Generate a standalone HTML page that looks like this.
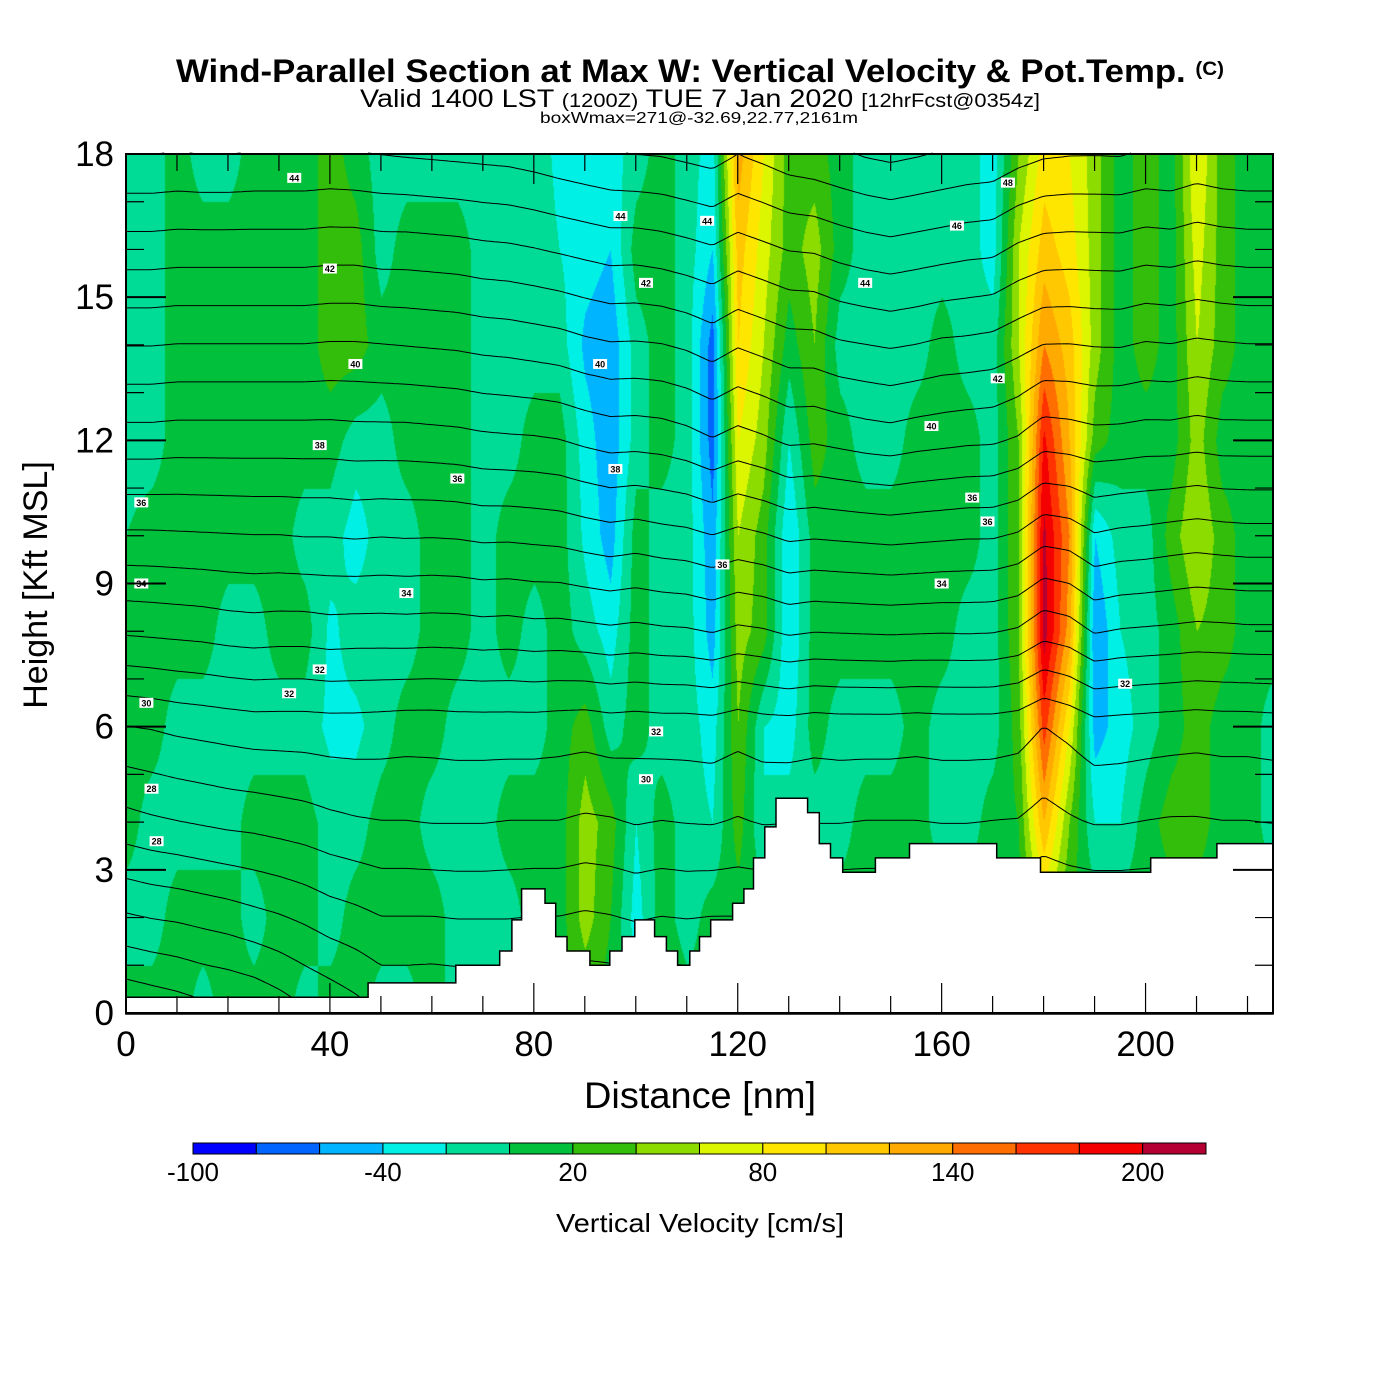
<!DOCTYPE html>
<html><head><meta charset="utf-8"><style>
body{margin:0;background:#fff;width:1400px;height:1400px;position:relative;overflow:hidden;font-family:"Liberation Sans",Arial,sans-serif}
#fld{position:absolute;left:126px;top:154px}
svg{position:absolute;left:0;top:0}
</style></head><body>
<canvas id="fld" width="1147" height="859"></canvas>
<svg id="s" width="1400" height="1400">
<text x="176" y="82" font-size="32" font-weight="bold" textLength="1048" lengthAdjust="spacingAndGlyphs">Wind-Parallel Section at Max W: Vertical Velocity &amp; Pot.Temp. <tspan font-size="19" dy="-7">(C)</tspan></text>
<text x="360" y="107" font-size="25" textLength="680" lengthAdjust="spacingAndGlyphs">Valid 1400 LST <tspan font-size="19">(1200Z)</tspan> TUE 7 Jan 2020 <tspan font-size="19">[12hrFcst@0354z]</tspan></text>
<text x="540" y="123" font-size="16" textLength="318" lengthAdjust="spacingAndGlyphs">boxWmax=271@-32.69,22.77,2161m</text>
<g id="contours"></g>
<g id="terrain"></g>
<g id="clabels"></g>
<g id="axes"></g>
<text x="700" y="1108" text-anchor="middle" font-size="37" textLength="232" lengthAdjust="spacingAndGlyphs">Distance [nm]</text>
<text transform="translate(47,585) rotate(-90)" text-anchor="middle" font-size="34">Height [Kft MSL]</text>
<g id="cbar"></g>
<text x="700" y="1232" text-anchor="middle" font-size="26" textLength="288" lengthAdjust="spacingAndGlyphs">Vertical Velocity [cm/s]</text>
</svg>
<script>
// ---- data ----
const distNodes=[0,5,10,15,20,25,30,35,40,45,50,55,60,65,70,75,80,85,90,95,100,105,110,115,120,125,130,135,140,145,150,155,160,165,170,175,180,185,190,195,200,205,210,215,220,225];
const heightNodes=[0,2,4,6,8,10,12,14,16,18];
// vertical velocity (cm/s) per distance column, heights 0..18 kft
const wCols=[
[10,-10,10,10,10,0,-10,-10,-10,-10],
[10,-10,-10,10,10,10,-10,-10,-10,-10],
[10,10,-10,-10,10,10,10,10,10,10],
[-10,10,-10,-10,10,10,10,10,10,-10],
[10,10,-10,-10,-10,10,10,10,10,-10],
[10,-10,10,-10,-10,10,10,10,10,10],
[10,10,10,-10,10,10,10,10,10,10],
[-10,10,10,-10,10,-10,10,10,10,10],
[10,-10,-10,-25,-25,-10,10,30,30,30],
[10,10,-10,-25,-10,-30,-10,30,30,10],
[-10,10,10,-10,-10,-10,-10,10,-10,-10],
[-10,10,10,10,-10,-10,10,10,10,-10],
[10,10,-10,10,10,10,10,10,10,-10],
[-10,-10,-10,-10,10,10,10,10,10,-10],
[-10,-10,-10,-10,-10,-10,-10,-10,-10,-10],
[-10,-10,10,-10,10,10,-10,-10,-10,-10],
[10,10,10,-10,-10,10,10,-10,-10,-10],
[10,10,10,10,10,10,10,-10,-20,-25],
[20,50,50,30,-10,-25,-30,-45,-30,-30],
[10,20,30,-10,-30,-50,-55,-55,-40,-30],
[-20,-30,-20,10,10,10,-10,-10,10,-10],
[20,10,10,-10,-10,-10,10,10,10,10],
[10,-10,-10,-10,-10,-10,-10,-10,-10,-10],
[10,10,-20,-30,-50,-55,-70,-70,-40,-30],
[10,10,30,40,50,60,80,100,110,130],
[10,10,-20,-20,30,30,50,60,70,80],
[10,10,-10,-30,-40,-40,-20,10,30,30],
[10,10,-10,10,10,10,30,40,50,30],
[10,10,-10,-10,10,10,10,-10,10,10],
[10,10,10,-10,10,10,-10,-10,-10,-10],
[10,10,10,-10,10,10,-10,-10,-10,-10],
[10,10,10,10,10,10,10,-10,-10,-10],
[10,10,-10,-10,10,10,10,10,-10,-10],
[10,10,-10,-10,-10,10,10,-10,-10,-10],
[10,10,10,-10,-10,-10,-10,-10,-30,-30],
[10,10,20,30,40,40,40,60,60,40],
[40,60,120,170,210,205,185,140,110,90],
[30,20,40,80,130,140,120,110,90,80],
[10,10,-20,-50,-60,-40,30,50,50,50],
[10,10,-20,-30,-20,-10,10,10,10,10],
[10,10,10,-10,-10,-10,10,30,30,30],
[10,10,30,10,10,30,10,10,10,10],
[10,10,30,30,40,60,50,60,70,80],
[10,10,10,10,30,30,10,30,30,30],
[10,10,10,10,10,10,10,10,10,10],
[10,10,-10,-10,10,10,10,10,10,10]];
const thetaBase=[24,26,28,29.5,32.5,35,37.5,40,42.5,45];
const thetaPertDist=[0,25,50,75,100,125,150,175,200,225];
const thetaPertHeight=[0,6,12,18];
const thetaPert=[
[-3,-2,0,0,0,0,0,0,0,0],
[-0.5,0,0,0,0,0,0,0,0,0],
[0,0,0,0.3,0.8,1.5,2,1.5,1,1],
[0,0,0,0.3,1,1.5,2.2,1.5,1,1]];
const terrainStart=[0,47.5,64.7,73.3,75.7,77.6,82.2,84.3,86.5,91,94.9,97.3,99.8,103.7,106,108.2,110.6,112.5,114.7,119,121.2,123.1,125.3,127.5,133.7,136,138.2,140.6,147,153.7,170.8,179.4,201,214];
const terrainHeight=[0.33,0.63,1.0,1.3,1.95,2.6,2.3,1.6,1.3,1.0,1.3,1.6,1.95,1.6,1.3,1.0,1.3,1.6,1.95,2.3,2.6,3.25,3.9,4.5,4.2,3.55,3.25,2.95,3.25,3.55,3.25,2.95,3.25,3.55];
const cbLevels=[-100,-80,-60,-40,-20,0,20,40,60,80,100,120,140,160,180,200,220];
const cbColors=["#0000ff","#0064ff","#00b4ff","#00f0e6","#00dc96","#00c03c","#32be0a","#8cdc00","#dcf500","#ffe600","#ffc800","#ffaa00","#ff6e00","#ff3200","#f50000","#b40032"];
const cbTickLabels=["-100","-40","20","80","140","200"];
const cbTickValues=[-100,-40,20,80,140,200];
const xTickLabels=["0","40","80","120","160","200"];
const xTickValues=[0,40,80,120,160,200];
const yTickLabels=["0","3","6","9","12","15","18"];
const yTickValues=[0,3,6,9,12,15,18];
const labelDist=[6,5,4,3,33,40,38,45,65,55,38,32,3,102,114,96,104,102,93,97,117,145,163,158,171,166,160,169,173,196];
const labelHeight=[3.6,4.7,6.5,9,17.5,15.6,11.9,13.6,11.2,8.8,7.2,6.7,10.7,15.3,16.6,11.4,5.9,4.9,13.6,16.7,9.4,15.3,16.5,12.3,13.3,10.8,9,10.3,17.4,6.9];
const labelText=["28","28","30","34","44","42","38","40","36","34","32","32","36","42","44","38","32","30","40","44","36","44","46","40","42","36","34","36","48","32"];
</script>
<script>
const X0=126,X1=1273,Y0=1013,Y1=154,XMAX=225,ZMAX=18;
const NS="http://www.w3.org/2000/svg";
const xs=d=>X0+(X1-X0)*d/XMAX, ys=z=>Y0-(Y0-Y1)*z/ZMAX;
function idx(arr,v){let i=0;while(i<arr.length-2&&v>arr[i+1])i++;const t=Math.max(0,Math.min(1,(v-arr[i])/(arr[i+1]-arr[i])));return [i,t];}
function wAt(d,z){const [i,tx]=idx(distNodes,d),[j,tz]=idx(heightNodes,z);
 const a=wCols[i][j],b=wCols[i+1][j],c=wCols[i][j+1],e=wCols[i+1][j+1];
 return (a*(1-tx)+b*tx)*(1-tz)+(c*(1-tx)+e*tx)*tz;}
function thAt(d,z){const [j,tz]=idx(heightNodes,z);let th=thetaBase[j]*(1-tz)+thetaBase[j+1]*tz;
 const [pi,px]=idx(thetaPertDist,d),[pj,pz]=idx(thetaPertHeight,z);
 th+=(thetaPert[pj][pi]*(1-px)+thetaPert[pj][pi+1]*px)*(1-pz)+(thetaPert[pj+1][pi]*(1-px)+thetaPert[pj+1][pi+1]*px)*pz;
 return th-0.003*wAt(d,z);}
const cv=document.getElementById('fld'),ctx=cv.getContext('2d');
const W=cv.width,H=cv.height,img=ctx.createImageData(W,H);
const rgb=cbColors.map(c=>[parseInt(c.slice(1,3),16),parseInt(c.slice(3,5),16),parseInt(c.slice(5,7),16)]);
for(let py=0;py<H;py++){const z=ZMAX*(H-py)/H;for(let px=0;px<W;px++){const d=XMAX*px/W;const w=wAt(d,z);
 let k=0;while(k<rgb.length-1&&w>=cbLevels[k+1])k++;const c=rgb[k],o=(py*W+px)*4;img.data[o]=c[0];img.data[o+1]=c[1];img.data[o+2]=c[2];img.data[o+3]=255;}}
ctx.putImageData(img,0,0);
const G=4,nx=Math.ceil((X1-X0)/G)+1,nz=Math.ceil((Y0-Y1)/G)+1,T=[];
for(let j=0;j<nz;j++){T.push([]);for(let i=0;i<nx;i++){const px=Math.min(X0+i*G,X1),py=Math.max(Y0-j*G,Y1);T[j].push(thAt((px-X0)/(X1-X0)*XMAX,(Y0-py)/(Y0-Y1)*ZMAX));}}
let path="";
for(let lev=20;lev<=50;lev++){
 for(let j=0;j<nz-1;j++)for(let i=0;i<nx-1;i++){
  const v=[T[j][i],T[j][i+1],T[j+1][i+1],T[j+1][i]];
  const p=[[X0+i*G,Y0-j*G],[X0+(i+1)*G,Y0-j*G],[X0+(i+1)*G,Y0-(j+1)*G],[X0+i*G,Y0-(j+1)*G]];
  const pts=[];
  for(let e=0;e<4;e++){const a=v[e],b=v[(e+1)%4];if((a<lev)!==(b<lev)){const t=(lev-a)/(b-a);pts.push([p[e][0]+(p[(e+1)%4][0]-p[e][0])*t,p[e][1]+(p[(e+1)%4][1]-p[e][1])*t]);}}
  for(let q=0;q+1<pts.length;q+=2)path+=`M${pts[q][0].toFixed(1)} ${pts[q][1].toFixed(1)}L${pts[q+1][0].toFixed(1)} ${pts[q+1][1].toFixed(1)}`;
 }}
const cp=document.createElementNS(NS,'path');cp.setAttribute('d',path);cp.setAttribute('stroke','#000');cp.setAttribute('stroke-width','1');cp.setAttribute('fill','none');


document.getElementById('contours').appendChild(cp);
let tp=`M${X0} ${Y0+1}`;
for(let k=0;k<terrainStart.length;k++){const x1=xs(terrainStart[k]),x2=xs(k+1<terrainStart.length?terrainStart[k+1]:XMAX),y=ys(terrainHeight[k]);tp+=`L${x1.toFixed(1)} ${y.toFixed(1)}L${x2.toFixed(1)} ${y.toFixed(1)}`;}
tp+=`L${X1} ${Y0+1}Z`;
const tr=document.createElementNS(NS,'path');tr.setAttribute('d',tp);tr.setAttribute('fill','#fff');tr.setAttribute('stroke','#000');tr.setAttribute('stroke-width','1.5');


document.getElementById('terrain').appendChild(tr);
const cl=document.getElementById('clabels');
for(let k=0;k<labelText.length;k++){const x=xs(labelDist[k]),y=ys(labelHeight[k]);
 const r=document.createElementNS(NS,'rect');r.setAttribute('x',x-7);r.setAttribute('y',y-5);r.setAttribute('width',14);r.setAttribute('height',10);r.setAttribute('fill','#fff');
 
 
 cl.appendChild(r);
 const t=document.createElementNS(NS,'text');t.setAttribute('x',x);t.setAttribute('y',y+3.5);t.setAttribute('text-anchor','middle');t.setAttribute('font-size','9');t.setAttribute('font-weight','bold');t.textContent=labelText[k];
 
 
 cl.appendChild(t);}
const ax=document.getElementById('axes');
function line(x1,y1,x2,y2,w,name){const l=document.createElementNS(NS,'line');l.setAttribute('x1',x1);l.setAttribute('y1',y1);l.setAttribute('x2',x2);l.setAttribute('y2',y2);l.setAttribute('stroke','#000');l.setAttribute('stroke-width',w);
 
 
 ax.appendChild(l);}
for(let d=0;d<=XMAX;d+=10){const x=xs(d),L=(d%40===0)?30:17;line(x,Y0,x,Y0-L,1.2,'x-tick');line(x,Y1,x,Y1+L,1.2,'x-tick-top');}
for(let z=0;z<=ZMAX;z++){const y=ys(z),L=(z%3===0)?40:18;line(X0,y,X0+L,y,z%3===0?2:1.2,'y-tick');line(X1,y,X1-L,y,z%3===0?2:1.2,'y-tick-right');}
const fr=document.createElementNS(NS,'rect');fr.setAttribute('x',X0);fr.setAttribute('y',Y1);fr.setAttribute('width',X1-X0);fr.setAttribute('height',Y0-Y1);fr.setAttribute('fill','none');fr.setAttribute('stroke','#000');fr.setAttribute('stroke-width','2');


ax.appendChild(fr);
for(let k=0;k<xTickLabels.length;k++){const t=document.createElementNS(NS,'text');t.setAttribute('x',xs(xTickValues[k]));t.setAttribute('y',1056);t.setAttribute('text-anchor','middle');t.setAttribute('font-size','35');t.textContent=xTickLabels[k];
 
 
 ax.appendChild(t);}
for(let k=0;k<yTickLabels.length;k++){const t=document.createElementNS(NS,'text');t.setAttribute('x',114);t.setAttribute('y',ys(yTickValues[k])+12);t.setAttribute('text-anchor','end');t.setAttribute('font-size','35');t.textContent=yTickLabels[k];
 
 
 ax.appendChild(t);}
const cb=document.getElementById('cbar'),CB0=193,CB1=1206,cbx=v=>CB0+(CB1-CB0)*(v-cbLevels[0])/(cbLevels[cbLevels.length-1]-cbLevels[0]);
for(let k=0;k<cbColors.length;k++){const r=document.createElementNS(NS,'rect');r.setAttribute('x',cbx(cbLevels[k]));r.setAttribute('y',1143);r.setAttribute('width',cbx(cbLevels[k+1])-cbx(cbLevels[k]));r.setAttribute('height',11);r.setAttribute('fill',cbColors[k]);r.setAttribute('stroke','#000');r.setAttribute('stroke-width','1');
 
 
 cb.appendChild(r);}
for(let k=0;k<cbTickLabels.length;k++){const t=document.createElementNS(NS,'text');t.setAttribute('x',cbx(cbTickValues[k]));t.setAttribute('y',1181);t.setAttribute('text-anchor','middle');t.setAttribute('font-size','26');t.textContent=cbTickLabels[k];
 
 
 cb.appendChild(t);}
</script>
</body></html>
